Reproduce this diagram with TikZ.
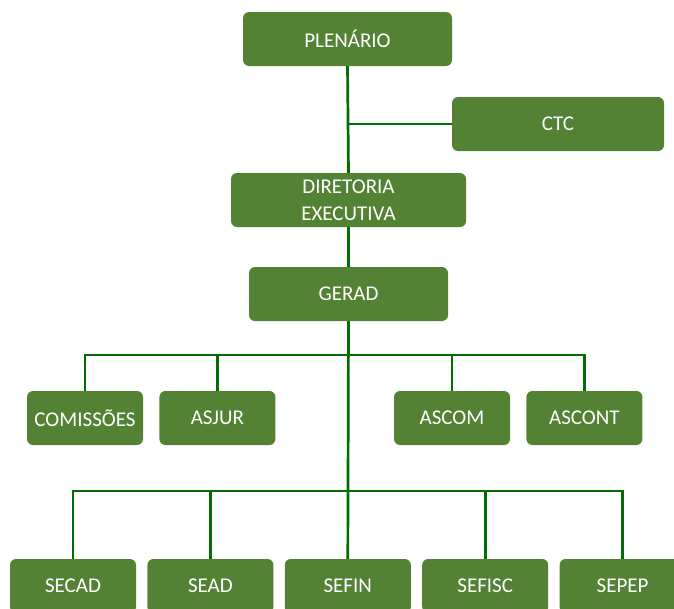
\documentclass[tikz,border=0pt]{standalone}
\usepackage{fontspec}
\setmainfont{Carlito}
\usetikzlibrary{positioning}
\definecolor{boxgreen}{RGB}{84,130,53}
\definecolor{linegreen}{RGB}{0,110,0}

\begin{document}
\begin{tikzpicture}[x=1pt,y=-1pt,node distance=11pt]
  \tikzstyle{unit}=[rectangle,rounded corners=6pt,fill=boxgreen,text=white,
    minimum height=54pt,inner sep=0pt,align=center,
    font=\fontsize{21}{27}\selectfont]
  \tikzstyle{link}=[draw=linegreen,line width=2.7pt]

  \useasboundingbox (0,0) rectangle (674,608);
  \clip (0,0) rectangle (674,608);

  \coordinate (bus1) at (348,355);
  \coordinate (bus2) at (348,491);

  \node[unit,minimum width=209pt] (plen)  at (347.5,39)  {PLENÁRIO};
  \node[unit,minimum width=212pt] (ctc)   at (558,124)   {CTC};
  \node[unit,minimum width=235pt] (dir)   at (348.5,200) {DIRETORIA\\EXECUTIVA};
  \node[unit,minimum width=199pt] (gerad) at (348.5,294) {GERAD};

  \node[unit,minimum width=116pt] (comis)  at (85,418)            {COMISSÕES};
  \node[unit,minimum width=116pt] (asjur)  [right=16pt of comis]  {ASJUR};
  \node[unit,minimum width=116pt] (ascom)  at (452,418)           {ASCOM};
  \node[unit,minimum width=116pt] (ascont) [right=16pt of ascom]  {ASCONT};

  \node[unit,minimum width=126pt] (secad)  at (73,586)            {SECAD};
  \node[unit,minimum width=126pt] (sead)   [right=of secad]       {SEAD};
  \node[unit,minimum width=126pt] (sefin)  [right=of sead]        {SEFIN};
  \node[unit,minimum width=126pt] (sefisc) [right=of sefin]       {SEFISC};
  \node[unit,minimum width=126pt] (sepep)  [right=of sefisc]      {SEPEP};

  \draw[link] (plen.south) -- (dir.north);
  \draw[link] (plen.south |- ctc.west) -- (ctc.west);
  \draw[link] (dir.south) -- (gerad.north);
  \draw[link] (gerad.south) -- (sefin.north);

  \draw[link] (comis.north) |- (bus1) -| (ascont.north);
  \foreach \n in {asjur,ascom}
    \draw[link] (\n.north) -- (\n.north |- bus1);

  \draw[link] (secad.north) |- (bus2) -| (sepep.north);
  \foreach \n in {sead,sefisc}
    \draw[link] (\n.north) -- (\n.north |- bus2);
\end{tikzpicture}
\end{document}
